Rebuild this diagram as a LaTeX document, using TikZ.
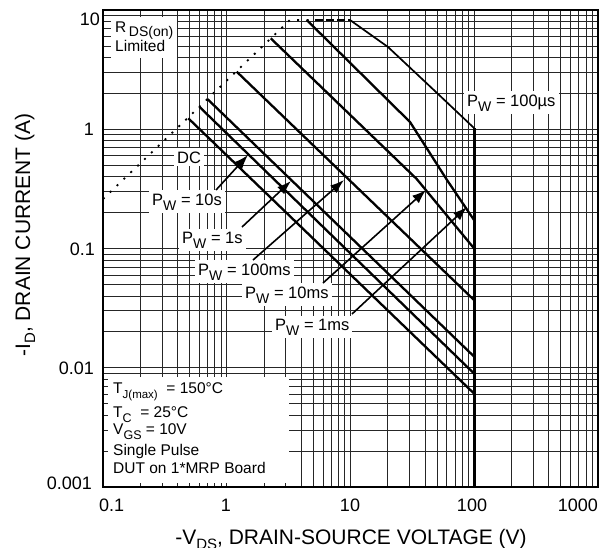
\documentclass[tikz,border=0pt]{standalone}
\usepackage{fontspec}
\setmainfont{Liberation Sans}
\usetikzlibrary{arrows.meta}
\newcommand\lsb[2]{\raisebox{-5pt}{\fontsize{#1}{#1}\selectfont #2}}
\newcommand\lsbs[2]{\raisebox{-4pt}{\fontsize{#1}{#1}\selectfont #2}}
\begin{document}
\begin{tikzpicture}[x=1pt,y=-1pt,
  grid/.style={line width=0.75pt, black!85},
  soa/.style={line width=2.3pt},
  lbl/.style={fill=white, inner xsep=3pt, inner ysep=3pt, font=\fontsize{16.5}{18}\selectfont},
  leg/.style={inner sep=0pt, font=\fontsize{15.5}{17}\selectfont, anchor=base west},
  ptr/.style={line width=1.6pt, -{Latex[length=14pt,width=10pt]}},
  ticklbl/.style={inner sep=0pt, font=\fontsize{18}{20}\selectfont},
  axtitle/.style={inner sep=0pt, font=\fontsize{21}{24}\selectfont, anchor=base}]
\useasboundingbox (0,0) rectangle (609,547);
% grid
\foreach \n in {0,1,2,3}{\foreach \k in {1,...,9}{
  \pgfmathsetmacro\xx{103+123.75*(\n+log10(\k))}
  \draw[grid] (\xx,10) -- (\xx,487);
  \pgfmathsetmacro\yy{10+119.25*(\n+1-log10(\k))}
  \draw[grid] (103,\yy) -- (598,\yy);
}}
% white label boxes
\node[fill=white, inner sep=0pt, minimum width=66pt, minimum height=41pt, anchor=north west] (rdsbox) at (111,17) {};
\node[leg] (rds1) at (115,32) {R\,\lsbs{14}{DS(on)}};
\node[leg] (rds2) at (115,51) {Limited};
\node[fill=white, inner sep=0pt, minimum width=181pt, minimum height=106pt, anchor=north west] (legend) at (108,377) {};
\node[leg] (l1) at (113,393) {T\lsb{11.5}{J(max)}\ \ = 150°C};
\node[leg] (l2) at (113,417) {T\lsb{12.5}{C}\ \ = 25°C};
\node[leg] (l3) at (113,434) {V\lsb{12.5}{GS} = 10V};
\node[leg] (l4) at (113,455) {Single Pulse};
\node[leg] (l5) at (113,473) {DUT on 1*MRP Board};
\node[lbl, anchor=base west] (dc) at (174,163) {DC};
\node[lbl, anchor=base west] (pw10s) at (149,205) {P\lsb{14}{W} = 10s};
\node[lbl, anchor=base west] (pw1s) at (179,243) {P\lsb{14}{W} = 1s};
\node[lbl, anchor=base west] (pw100ms) at (195,275) {P\lsb{14}{W} = 100ms};
\node[lbl, anchor=base west] (pw10ms) at (242,298) {P\lsb{14}{W} = 10ms};
\node[lbl, anchor=base west] (pw1ms) at (272,330) {P\lsb{14}{W} = 1ms};
\node[lbl, anchor=base west] (pw100us) at (464,106) {P\lsb{14}{W} = 100µs};
% RDS(on) limit and current limit
\coordinate (r0) at (103,199);
\coordinate (r1) at (290,20);
\coordinate (r2) at (312,20);
\coordinate (r3) at (315,20);
\coordinate (u0) at (350,20);
\draw[line width=1.8pt, dash pattern=on 2pt off 7.5pt] (r0) -- (r1) -- (r2);
\draw[line width=2pt, dash pattern=on 8pt off 3pt] (r3) -- (u0);
% SOA lines
\coordinate (dcS) at (188.3,118.3);  \coordinate (dcE) at (474,393.5);
\coordinate (s10S) at (199.3,106.7); \coordinate (s10E) at (474,373.5);
\coordinate (s1S) at (207.7,99.3);   \coordinate (s1E) at (474,356.5);
\coordinate (m100S) at (236.7,71.7); \coordinate (m100E) at (474,300);
\coordinate (m10S) at (270.7,38.3);  \coordinate (m10K) at (416.7,179); \coordinate (m10E) at (474,248.3);
\coordinate (m1S) at (306.7,20); \coordinate (m1K) at (410,122); \coordinate (m1L) at (447,180); \coordinate (m1E) at (474,220);
\coordinate (u1) at (388,47); \coordinate (u2) at (437,93); \coordinate (uE) at (474,128);
\coordinate (bv) at (474,487);
\draw[soa] (dcS) -- (dcE);
\draw[soa] (s10S) -- (s10E);
\draw[soa] (s1S) -- (s1E);
\draw[soa] (m100S) -- (m100E);
\draw[soa, line join=round] (m10S) -- (m10K) -- (m10E);
\draw[soa, line join=round] (m1S) -- (m1K) -- (m1L) -- (m1E);
\draw[line width=1.7pt, line join=round] (u0) -- (u1) -- (u2) -- (uE);
\draw[line width=3pt] (uE) -- (bv);
% arrows
\coordinate (a10sT) at (216,190);  \coordinate (a10sH) at (248,155);
\coordinate (a1sT) at (242,227);   \coordinate (a1sH) at (291,181);
\coordinate (a100T) at (253,260);  \coordinate (a100H) at (344,180);
\coordinate (a10mT) at (323,283);  \coordinate (a10mH) at (426,190);
\coordinate (a1mT) at (352,314);   \coordinate (a1mH) at (467,207);
\draw[ptr] (a10sT) -- (a10sH);
\draw[ptr] (a1sT) -- (a1sH);
\draw[ptr] (a100T) -- (a100H);
\draw[ptr] (a10mT) -- (a10mH);
\draw[ptr] (a1mT) -- (a1mH);
% frame
\draw[line width=1.2pt] (103,10) rectangle (598,487);
% tick labels
\node[ticklbl, anchor=east] (y10) at (100,19) {10};
\node[ticklbl, anchor=east] (y1) at (94,129) {1};
\node[ticklbl, anchor=east] (y01) at (95,249) {0.1};
\node[ticklbl, anchor=east] (y001) at (94,368) {0.01};
\node[ticklbl, anchor=east] (y0001) at (92,483) {0.001};
\node[ticklbl] (x01) at (111.7,505) {0.1};
\node[ticklbl] (x1) at (226,505) {1};
\node[ticklbl] (x10) at (350,505) {10};
\node[ticklbl] (x100) at (472,505) {100};
\node[ticklbl, anchor=east] (x1000) at (598,505) {1000};
% axis titles
\node[axtitle] (xt) at (351,544) {-V\lsb{15}{DS}, DRAIN-SOURCE VOLTAGE (V)};
\node[axtitle, rotate=90] (yt) at (30,235) {-I\lsb{15}{D}, DRAIN CURRENT (A)};
\end{tikzpicture}
\end{document}
